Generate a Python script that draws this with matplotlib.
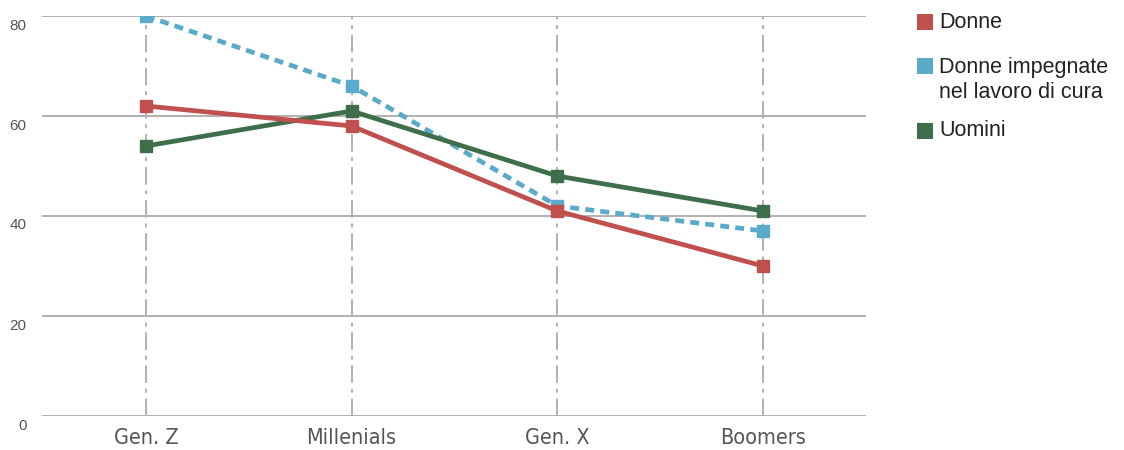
import matplotlib
matplotlib.use('Agg')
import matplotlib.pyplot as plt
import matplotlib.transforms as mtransforms
from matplotlib.patches import Rectangle

generazioni = ['Gen. Z', 'Millenials', 'Gen. X', 'Boomers']
donne = [62, 58, 41, 30]
donne_cura = [80, 66, 42, 37]
uomini = [54, 61, 48, 41]
y_ticks = [0, 20, 40, 60, 80]

rosso = '#c0504d'
azzurro = '#5aabc9'
verde = '#3f6e4a'

fig = plt.figure(figsize=(11.24, 4.5), dpi=100)
ax = fig.add_axes([42 / 1124, 1 - 416 / 450, 824 / 1124, 400 / 450])

x = list(range(len(generazioni)))

# griglia
for yt in y_ticks:
    ax.axhline(yt, color='#b0b0b0', lw=1.4, zorder=1)
for xi in x:
    ax.plot([xi, xi], [0, 80], color='#b0b0b0', lw=1.4,
            linestyle=(0, (9, 3, 2, 3)), zorder=1)

ax.plot(x, donne_cura, color=azzurro, lw=3.4, linestyle=(0, (1.9, 1.3)),
        marker='s', markersize=8, zorder=3)
ax.plot(x, uomini, color=verde, lw=3.4, marker='s', markersize=8, zorder=4)
ax.plot(x, donne, color=rosso, lw=3.4, marker='s', markersize=8, zorder=5)

ax.set_xlim(-0.505, 3.5)
ax.set_ylim(0, 80)
ax.set_xticks(x)
ax.set_xticklabels(generazioni, fontsize=15.5, color='#555555',
                   family='DejaVu Sans', stretch='condensed')
ax.set_yticks(y_ticks)
ax.set_yticklabels([str(v) for v in y_ticks], fontsize=11, color='#555555',
                   family=['Liberation Sans', 'DejaVu Sans'])
ax.tick_params(axis='both', length=0)
ax.tick_params(axis='y', pad=11)
ax.tick_params(axis='x', pad=9)
offset = mtransforms.ScaledTranslation(0, -8 / 100, fig.dpi_scale_trans)
for lab in ax.get_yticklabels():
    lab.set_transform(lab.get_transform() + offset)
for s in ax.spines.values():
    s.set_visible(False)

# legenda
voci = [('Donne', rosso, 14, [23]),
        ('Donne impegnate\nnel lavoro di cura', azzurro, 58, [67, 92]),
        ('Uomini', verde, 123, [131])]
for testo, col, top, righe in voci:
    fig.add_artist(Rectangle((917 / 1124, 1 - (top + 16) / 450), 16 / 1124, 16 / 450,
                             transform=fig.transFigure, color=col, lw=0))
    for riga, yc in zip(testo.split('\n'), righe):
        fig.text(939 / 1124, 1 - yc / 450, riga, fontsize=15.5, color='#222222',
                 va='center', ha='left', family=['Liberation Sans', 'DejaVu Sans'])

fig.savefig('out.png', dpi=100)
